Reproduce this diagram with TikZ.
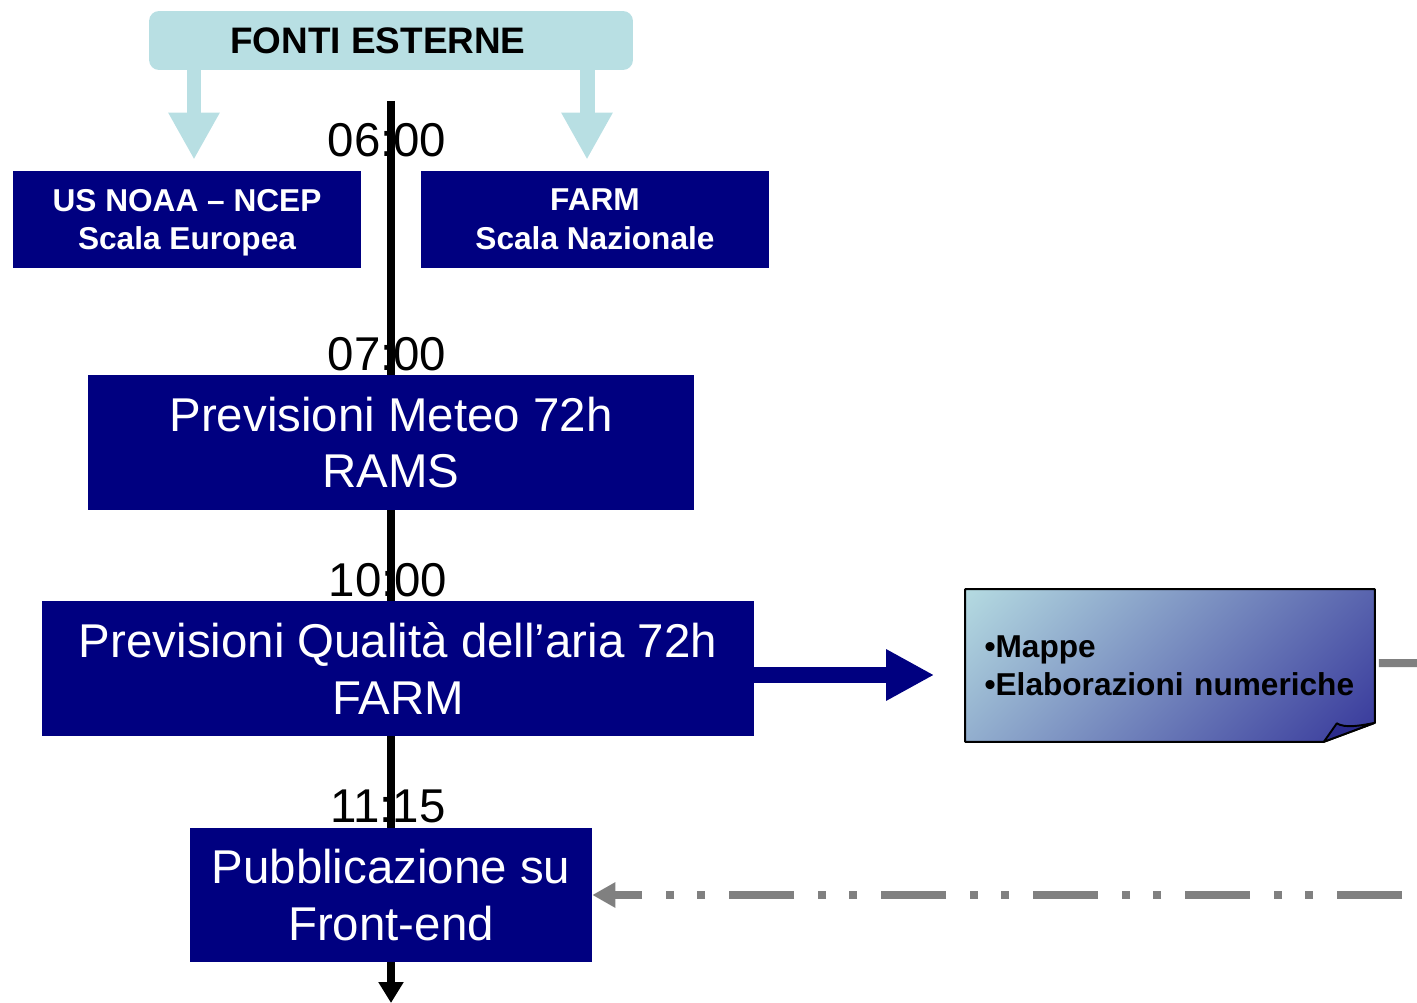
\documentclass[tikz,border=0pt]{standalone}
\usepackage{fontspec}
\setmainfont{Liberation Sans}
\usetikzlibrary{arrows.meta,backgrounds}
\definecolor{fonticolor}{HTML}{B8DFE3}
\definecolor{boxcolor}{HTML}{000080}
\definecolor{notedark}{HTML}{333399}
\definecolor{foldcolor}{HTML}{2B2B8C}
\definecolor{lineagray}{HTML}{808080}
\begin{document}
\begin{tikzpicture}[x=0.02cm,y=-0.02cm,
 fase/.style={fill=boxcolor,text=white,align=center,inner sep=0pt,font=\fontsize{27}{32.3}\selectfont},
 fonte/.style={fill=boxcolor,text=white,align=center,inner sep=0pt,text depth=0pt,minimum width=6.96cm,minimum height=1.94cm,font=\bfseries\fontsize{18}{22.1}\selectfont},
 ora/.style={inner sep=0pt,font=\fontsize{27}{32}\selectfont},
 fatarrow/.style={fonticolor,line width=0.3cm,-{Triangle[width=0.96cm,length=0.94cm]}},
 ritornostyle/.style={lineagray,line width=0.16cm,dash pattern=on 1.3cm off 0.48cm on 0.16cm off 0.46cm on 0.16cm off 0.48cm,-{Triangle[width=0.48cm,length=0.46cm]}}]
 \useasboundingbox (0,0) rectangle (1417,1003);
 \node [fill=fonticolor,rounded corners=0.2cm,inner sep=0pt,minimum width=9.68cm,minimum height=1.18cm,font=\bfseries\fontsize{21}{25}\selectfont] (fonti) at (391,40.5) {FONTI ESTERNE\hspace*{0.52cm}};
 \node [ora] (t06) at (387,140) {06:00};
 \node [ora] (t07) at (387,354) {07:00};
 \node [ora] (t10) at (388,580) {10:00};
 \node [ora] (t11) at (388,806) {11:15};
 \node [fonte] (noaa) at (187,219.5) {US NOAA – NCEP\\Scala Europea};
 \node [fonte] (farm) at (595,219.5) {FARM\\Scala Nazionale};
 \node [fase,minimum width=12.12cm,minimum height=2.7cm] (rams) at (391,442.5) {Previsioni Meteo 72h\\RAMS};
 \node [fase,minimum width=14.24cm,minimum height=2.7cm] (qaria) at (398,668.5) {Previsioni Qualità dell’aria 72h\\FARM};
 \node [fase,minimum width=8.04cm,minimum height=2.68cm] (pubbl) at (391,895) {Pubblicazione su\\Front-end};
 \node [align=left,text width=7.42cm,inner xsep=0.38cm,inner ysep=0pt,minimum height=3.04cm,font=\bfseries\fontsize{18}{21.5}\selectfont] (note) at (1170,665.5) {•Mappe\\•Elaborazioni numeriche};
 \coordinate (inizio) at (391,101);
 \coordinate (fine) at (391,1003);
 \coordinate (uscita) at (1417,663);
 \coordinate (ritorno) at (1402,895);
 \begin{scope}[on background layer]
  \draw [line width=0.16cm,-{Triangle[width=0.48cm,length=0.42cm]}] (inizio) -- (fine);
  \path [path picture={\shade [top color=fonticolor,bottom color=notedark,shading angle=45] ([shift={(-4.2cm,-4.2cm)}]path picture bounding box.center) rectangle ([shift={(4.2cm,4.2cm)}]path picture bounding box.center);}] (note.north west) -- (note.north east) -- ([yshift=0.38cm]note.south east) -- ([xshift=-1.02cm]note.south east) -- (note.south west) -- cycle;
 \end{scope}
 \draw [line width=1.1pt,line join=round] (note.north west) -- (note.north east) -- ([yshift=0.38cm]note.south east) -- ([xshift=-1.02cm]note.south east) -- (note.south west) -- cycle;
 \filldraw [fill=foldcolor,line width=1.1pt,line join=round] ([xshift=-1.02cm]note.south east) -- ([xshift=-0.76cm,yshift=0.37cm]note.south east) .. controls ([xshift=-0.6cm,yshift=0.27cm]note.south east) and ([xshift=-0.3cm,yshift=0.32cm]note.south east) .. ([yshift=0.38cm]note.south east) -- cycle;
 \draw [fatarrow] ([xshift=0.14cm]fonti.south -| noaa.north) -- ([xshift=0.14cm,yshift=0.22cm]noaa.north);
 \draw [fatarrow] ([xshift=-0.16cm]fonti.south -| farm.north) -- ([xshift=-0.16cm,yshift=0.22cm]farm.north);
 \draw [boxcolor,line width=0.32cm,-{Triangle[width=0.96cm,length=0.96cm]}] ([yshift=-0.13cm]qaria.east) -- ([xshift=-0.62cm,yshift=-0.13cm]qaria.east -| note.west);
 \draw [lineagray,line width=0.16cm] ([xshift=0.08cm,yshift=0.05cm]note.east) -- (uscita);
 \draw [ritornostyle] (ritorno) -- (pubbl.east);
\end{tikzpicture}
\end{document}
